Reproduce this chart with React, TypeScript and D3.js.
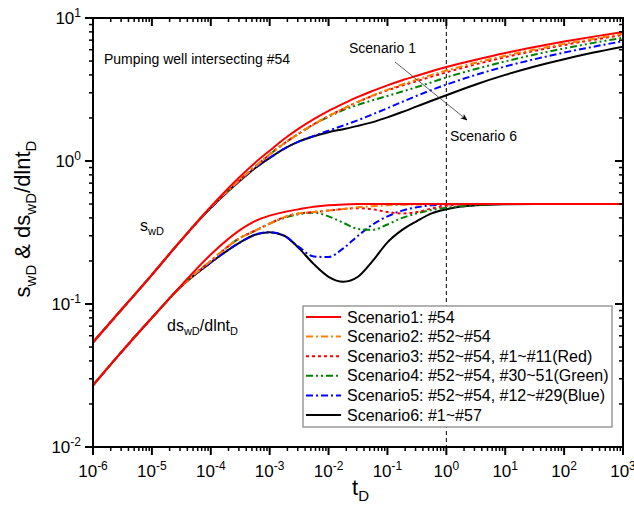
import React from "react";
import * as d3 from "d3";

const tD = [1e-6, 3.16e-6, 1e-5, 3.16e-5, 1e-4, 3.16e-4, 5.62e-4, 1e-3, 1.78e-3, 3.16e-3, 5.62e-3, 1e-2, 1.78e-2, 3.16e-2, 5.62e-2, 0.1, 0.178, 0.316, 0.562, 1, 1.78, 3.16, 10, 31.6, 100, 316, 1000];

const s1 = [0.054, 0.093, 0.16, 0.28, 0.48, 0.78, 0.97, 1.18, 1.43, 1.69, 1.96, 2.24, 2.52, 2.81, 3.09, 3.38, 3.67, 3.95, 4.24, 4.54, 4.83, 5.11, 5.69, 6.26, 6.84, 7.41, 7.99];
const ds1 = [0.027, 0.047, 0.080, 0.135, 0.222, 0.33, 0.38, 0.415, 0.44, 0.46, 0.478, 0.49, 0.497, 0.5, 0.5, 0.5, 0.5, 0.5, 0.5, 0.5, 0.5, 0.5, 0.5, 0.5, 0.5, 0.5, 0.5];

const s2 = [0.054, 0.093, 0.16, 0.28, 0.475, 0.74, 0.91, 1.11, 1.33, 1.56, 1.81, 2.06, 2.32, 2.59, 2.87, 3.15, 3.43, 3.71, 4.00, 4.29, 4.58, 4.87, 5.45, 6.02, 6.60, 7.17, 7.75];
const ds2 = [0.027, 0.047, 0.080, 0.133, 0.20, 0.29, 0.325, 0.365, 0.405, 0.43, 0.44, 0.45, 0.462, 0.475, 0.483, 0.49, 0.494, 0.497, 0.499, 0.5, 0.5, 0.5, 0.5, 0.5, 0.5, 0.5, 0.5];

const s3 = [0.054, 0.093, 0.16, 0.28, 0.475, 0.74, 0.91, 1.11, 1.33, 1.56, 1.81, 2.06, 2.32, 2.59, 2.86, 3.12, 3.37, 3.62, 3.89, 4.17, 4.45, 4.74, 5.32, 5.89, 6.47, 7.04, 7.62];
const ds3 = [0.027, 0.047, 0.080, 0.133, 0.20, 0.29, 0.325, 0.365, 0.405, 0.43, 0.44, 0.45, 0.462, 0.468, 0.46, 0.44, 0.43, 0.44, 0.465, 0.487, 0.496, 0.5, 0.5, 0.5, 0.5, 0.5, 0.5];

const s4 = [0.054, 0.093, 0.16, 0.28, 0.475, 0.74, 0.91, 1.11, 1.33, 1.56, 1.80, 2.04, 2.27, 2.47, 2.66, 2.85, 3.06, 3.29, 3.55, 3.84, 4.12, 4.40, 4.97, 5.55, 6.12, 6.70, 7.27];
const ds4 = [0.027, 0.047, 0.080, 0.133, 0.20, 0.29, 0.325, 0.365, 0.40, 0.425, 0.435, 0.41, 0.37, 0.335, 0.33, 0.36, 0.40, 0.43, 0.455, 0.47, 0.483, 0.492, 0.5, 0.5, 0.5, 0.5, 0.5];

const s5 = [0.054, 0.093, 0.16, 0.28, 0.47, 0.73, 0.89, 1.05, 1.22, 1.37, 1.50, 1.63, 1.77, 1.93, 2.12, 2.34, 2.59, 2.86, 3.14, 3.42, 3.71, 4.00, 4.58, 5.15, 5.73, 6.30, 6.88];
const ds5 = [0.027, 0.047, 0.080, 0.133, 0.195, 0.27, 0.305, 0.318, 0.30, 0.25, 0.215, 0.213, 0.245, 0.30, 0.36, 0.41, 0.45, 0.475, 0.49, 0.497, 0.5, 0.5, 0.5, 0.5, 0.5, 0.5, 0.5];

const s6 = [0.054, 0.093, 0.16, 0.28, 0.47, 0.73, 0.89, 1.05, 1.22, 1.37, 1.49, 1.59, 1.67, 1.76, 1.87, 2.02, 2.20, 2.41, 2.64, 2.88, 3.15, 3.43, 4.00, 4.58, 5.15, 5.73, 6.30];
const ds6 = [0.027, 0.047, 0.080, 0.133, 0.195, 0.27, 0.305, 0.318, 0.30, 0.245, 0.19, 0.155, 0.143, 0.155, 0.20, 0.27, 0.33, 0.38, 0.43, 0.46, 0.48, 0.49, 0.498, 0.5, 0.5, 0.5, 0.5];

const legendLabels = [
  "Scenario1: #54",
  "Scenario2: #52~#54",
  "Scenario3: #52~#54, #1~#11(Red)",
  "Scenario4: #52~#54, #30~51(Green)",
  "Scenario5: #52~#54, #12~#29(Blue)",
  "Scenario6: #1~#57",
];
const xExponents = [-6, -5, -4, -3, -2, -1, 0, 1, 2, 3];
const yExponents = [-2, -1, 0, 1];

const styles = [
  { color: "#FF0000", dash: "", width: 2 },
  { color: "#FF8000", dash: "7,3,2,3", width: 2 },
  { color: "#FF0000", dash: "3,3", width: 2 },
  { color: "#008000", dash: "7,3,2,3,2,3", width: 2 },
  { color: "#0000FF", dash: "7,3,2,3", width: 2 },
  { color: "#000000", dash: "", width: 2 },
];

const sSeries = [s1, s2, s3, s4, s5, s6];
const dsSeries = [ds1, ds2, ds3, ds4, ds5, ds6];

const L = 93, R = 623, T = 18, B = 447;
const FONT = "Arial, 'Liberation Sans', sans-serif";

export default function App() {
  const x = d3.scaleLog().domain([1e-6, 1e3]).range([L, R]);
  const y = d3.scaleLog().domain([1e-2, 1e1]).range([B, T]);
  const line = d3
    .line<[number, number]>()
    .x((d) => x(d[0]))
    .y((d) => y(d[1]))
    .curve(d3.curveMonotoneX);

  const xMinor: number[] = [];
  for (let e = -6; e < 3; e++) for (let k = 2; k <= 9; k++) xMinor.push(k * Math.pow(10, e));
  const yMinor: number[] = [];
  for (let e = -2; e < 1; e++) for (let k = 2; k <= 9; k++) yMinor.push(k * Math.pow(10, e));

  const order = [5, 4, 3, 2, 1, 0];

  return (
    <svg width={634} height={514} style={{ position: "absolute", left: 0, top: 0, background: "#fff" }} fontFamily={FONT}>
      <defs>
        <clipPath id="plot">
          <rect x={L} y={T} width={R - L} height={B - T} />
        </clipPath>
        <marker id="arrow" viewBox="0 0 10 10" refX="9" refY="5" markerWidth="9" markerHeight="9" orient="auto">
          <path d="M0,1 L10,5 L0,9 L3,5 Z" fill="#000" />
        </marker>
      </defs>
      <rect x={0} y={0} width={634} height={514} fill="#fff" />

      <line x1={x(1)} x2={x(1)} y1={T} y2={B} stroke="#000" strokeWidth={1} strokeDasharray="4,3" />

      <g clipPath="url(#plot)">
        {order.map((i) => (
          <g key={i}>
            <path
              d={line(tD.map((t, j) => [t, sSeries[i][j]] as [number, number])) || ""}
              fill="none"
              stroke={styles[i].color}
              strokeWidth={styles[i].width}
              strokeDasharray={styles[i].dash}
            />
            <path
              d={line(tD.map((t, j) => [t, dsSeries[i][j]] as [number, number])) || ""}
              fill="none"
              stroke={styles[i].color}
              strokeWidth={styles[i].width}
              strokeDasharray={styles[i].dash}
            />
          </g>
        ))}
      </g>

      <rect x={L} y={T} width={R - L} height={B - T} fill="none" stroke="#000" strokeWidth={2} />

      {xExponents.map((e) => {
        const px = x(Math.pow(10, e));
        return (
          <g key={"xm" + e}>
            <line x1={px} x2={px} y1={B} y2={B + 8} stroke="#000" strokeWidth={2} />
            <line x1={px} x2={px} y1={T} y2={T + 8} stroke="#000" strokeWidth={2} />
            <text x={px} y={477} textAnchor="middle" fontSize={17} fill="#000">
              10<tspan fontSize={12} dy={-7}>{e}</tspan>
            </text>
          </g>
        );
      })}
      {xMinor.map((v, i) => {
        const px = x(v);
        return (
          <g key={"xn" + i}>
            <line x1={px} x2={px} y1={B} y2={B + 4} stroke="#000" strokeWidth={1.5} />
            <line x1={px} x2={px} y1={T} y2={T + 4} stroke="#000" strokeWidth={1.5} />
          </g>
        );
      })}

      {yExponents.map((e) => {
        const py = y(Math.pow(10, e));
        return (
          <g key={"ym" + e}>
            <line x1={L - 8} x2={L} y1={py} y2={py} stroke="#000" strokeWidth={2} />
            <line x1={R - 8} x2={R} y1={py} y2={py} stroke="#000" strokeWidth={2} />
            <text x={81} y={py + 6} textAnchor="end" fontSize={17} fill="#000">
              10<tspan fontSize={12} dy={-7}>{e}</tspan>
            </text>
          </g>
        );
      })}
      {yMinor.map((v, i) => {
        const py = y(v);
        return (
          <g key={"yn" + i}>
            <line x1={L - 4} x2={L} y1={py} y2={py} stroke="#000" strokeWidth={1.5} />
            <line x1={R - 4} x2={R} y1={py} y2={py} stroke="#000" strokeWidth={1.5} />
          </g>
        );
      })}

      <text x={352} y={495} fontSize={22} fill="#000">
        t<tspan fontSize={15} dy={6}>D</tspan>
      </text>
      <text transform="translate(30,219) rotate(-90)" textAnchor="middle" fontSize={22} fill="#000">
        s<tspan fontSize={15} dy={6}>wD</tspan>
        <tspan dy={-6}> &amp; ds</tspan>
        <tspan fontSize={15} dy={6}>wD</tspan>
        <tspan dy={-6}>/dlnt</tspan>
        <tspan fontSize={15} dy={6}>D</tspan>
      </text>

      <text x={104} y={64} fontSize={14} fill="#000">Pumping well intersecting #54</text>
      <text x={349} y={53} fontSize={14} fill="#000">Scenario 1</text>
      <text x={450} y={141} fontSize={14} fill="#000">Scenario 6</text>
      <line x1={395} y1={62} x2={467} y2={120} stroke="#333" strokeWidth={0.8} markerEnd="url(#arrow)" />
      <text x={140} y={231} fontSize={16} fill="#000">
        s<tspan fontSize={11} dy={4}>wD</tspan>
      </text>
      <text x={167} y={331} fontSize={16} fill="#000">
        ds<tspan fontSize={11} dy={4}>wD</tspan>
        <tspan dy={-4}>/dlnt</tspan>
        <tspan fontSize={11} dy={4}>D</tspan>
      </text>

      <rect x={303} y={306} width={309} height={121} fill="#fff" stroke="#999" strokeWidth={1.5} />
      {legendLabels.map((lab, i) => {
        const ly = 317 + i * 19.6;
        return (
          <g key={"lg" + i}>
            <line x1={306} x2={341} y1={ly} y2={ly} stroke={styles[i].color} strokeWidth={styles[i].width} strokeDasharray={styles[i].dash} />
            <text x={347} y={ly + 5.5} fontSize={16} fill="#000">{lab}</text>
          </g>
        );
      })}
    </svg>
  );
}
